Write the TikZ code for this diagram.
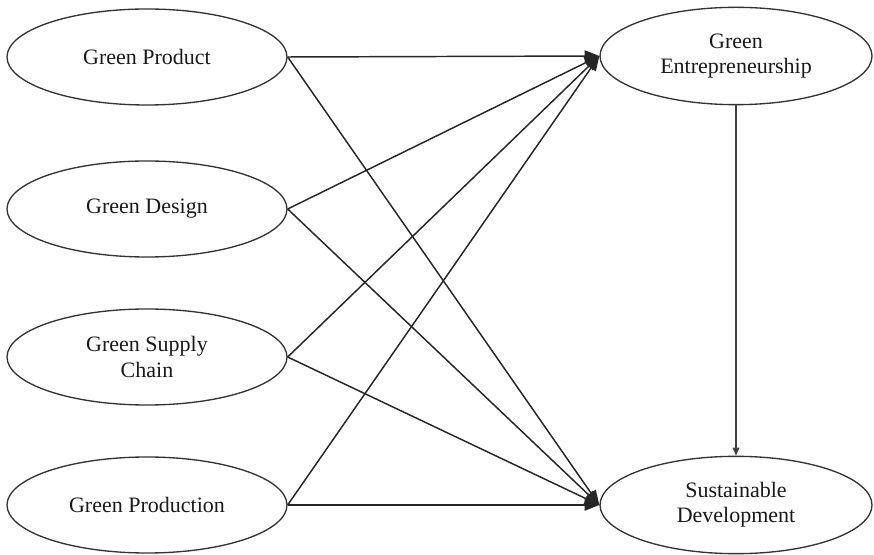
\documentclass[tikz,border=0pt]{standalone}
\usepackage{fontspec}
\setmainfont{Liberation Serif}
\usetikzlibrary{shapes.geometric,arrows.meta}
\begin{document}
\begin{tikzpicture}[x=0.75pt,y=-0.75pt,
  construct/.style={ellipse,draw=black!80,line width=1pt,inner sep=0pt,
    minimum width=210pt,minimum height=72pt,align=center,
    font=\fontsize{16.5}{19}\selectfont,text=black!90},
  path/.style={draw=black!85,line width=1.1pt,-{Triangle[length=11pt,width=8.5pt]}},
  small path/.style={draw=black!75,line width=0.9pt,-{Triangle[length=6pt,width=5pt]}}]
\useasboundingbox (0,0) rectangle (874,555);
% exogenous constructs
\node[construct] (gp) at (147,57) {Green Product};
\node[construct] (gd) at (147,209) {Green Design};
\node[construct] (gs) at (147,357) {Green Supply\\Chain};
\node[construct] (gpr) at (147,505) {Green Production};
% endogenous constructs
\node[construct,minimum width=204pt,minimum height=73pt] (ge) at (736,56) {Green\\Entrepreneurship};
\node[construct,minimum width=204pt,minimum height=73pt] (sd) at (736,505) {Sustainable\\Development};
% structural paths
\foreach \s in {gp,gd,gs,gpr}{
  \draw[path] (\s.east) -- (ge.west);
  \draw[path] (\s.east) -- (sd.west);
}
\draw[small path] (ge.south) -- (sd.north);
\end{tikzpicture}
\end{document}
